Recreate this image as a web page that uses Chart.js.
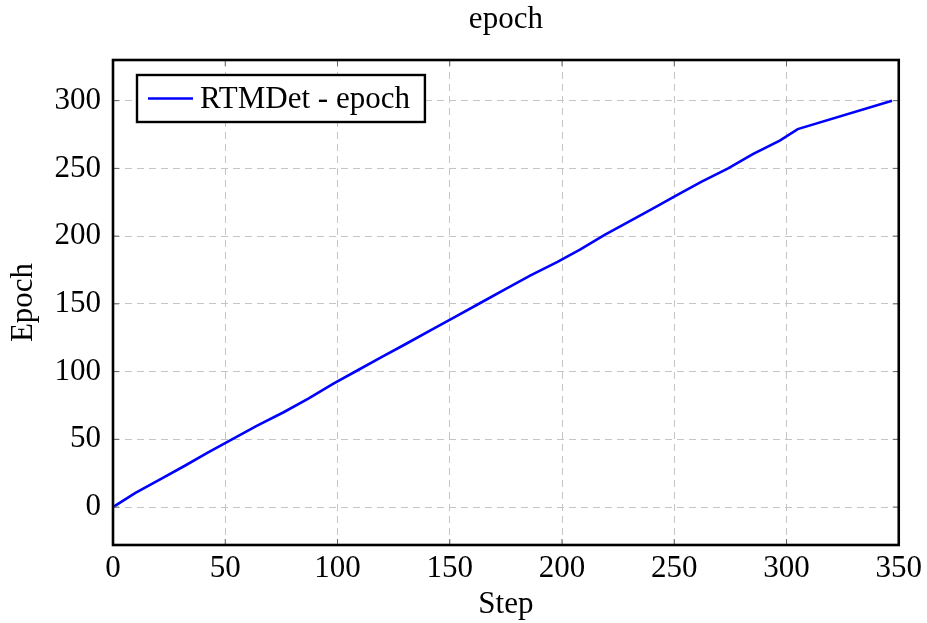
<!DOCTYPE html>
<html>
<head>
<meta charset="utf-8">
<script src="https://cdn.jsdelivr.net/npm/chart.js@4/dist/chart.umd.min.js"></script>
<style>
  html, body { margin: 0; padding: 0; background: #fff; }
  #wrap { width: 927px; height: 623px; }
</style>
</head>
<body>
<div id="wrap"><canvas id="c"></canvas></div>
<script>
// data
const steps = [0, 10, 21, 32, 42, 53, 64, 76, 87, 98, 109, 120, 130, 142, 153, 164, 175, 186, 198, 208, 219, 229, 240, 251, 262, 274, 285, 297, 305, 347];
const epochs = [0, 10.5, 20.5, 30.5, 40, 50, 60, 70, 80, 91, 101, 111, 120, 131, 141, 151, 161, 171, 181, 190, 201, 210, 220, 230, 240, 250, 260.5, 270.5, 279, 300];
const xTicks = [0, 50, 100, 150, 200, 250, 300, 350];
const yTicks = [0, 50, 100, 150, 200, 250, 300];

const FONT = "'Liberation Serif', 'DejaVu Serif', serif";
const FS = 31;

// title over the plot, frame, inner tick marks and boxed legend (pgfplots look)
const framePlugin = {
  id: "frame",
  afterDatasetsDraw(chart) {
    const ctx = chart.ctx;
    const a = chart.chartArea;
    const xs = chart.scales.x;
    const ys = chart.scales.y;
    ctx.save();

    ctx.fillStyle = "#000";
    ctx.font = FS + "px " + FONT;
    ctx.textAlign = "center";
    ctx.textBaseline = "middle";
    ctx.fillText(chart.options.plugins.title.text, (a.left + a.right) / 2, 20);
    ctx.textAlign = "left";

    ctx.strokeStyle = "#666";
    ctx.lineWidth = 1;
    xTicks.forEach((v) => {
      const px = xs.getPixelForValue(v);
      ctx.beginPath();
      ctx.moveTo(px, a.bottom); ctx.lineTo(px, a.bottom - 6);
      ctx.moveTo(px, a.top); ctx.lineTo(px, a.top + 6);
      ctx.stroke();
    });
    yTicks.forEach((v) => {
      const py = ys.getPixelForValue(v);
      ctx.beginPath();
      ctx.moveTo(a.left, py); ctx.lineTo(a.left + 6, py);
      ctx.moveTo(a.right, py); ctx.lineTo(a.right - 6, py);
      ctx.stroke();
    });
    ctx.strokeStyle = "#000";
    ctx.lineWidth = 2.6;
    ctx.strokeRect(a.left, a.top, a.right - a.left, a.bottom - a.top);

    // legend
    const ds = chart.data.datasets[0];
    const tw = ctx.measureText(ds.label).width;
    const bx = a.left + 24, by = a.top + 15;
    const bw = 63 + tw + 15, bh = 47;
    ctx.fillStyle = "#fff";
    ctx.fillRect(bx, by, bw, bh);
    ctx.strokeStyle = "#000";
    ctx.lineWidth = 2.4;
    ctx.strokeRect(bx, by, bw, bh);
    ctx.strokeStyle = ds.borderColor;
    ctx.lineWidth = 2.6;
    ctx.beginPath();
    ctx.moveTo(bx + 11, by + bh / 2);
    ctx.lineTo(bx + 56, by + bh / 2);
    ctx.stroke();
    ctx.fillStyle = "#000";
    ctx.fillText(ds.label, bx + 63, by + bh / 2 + 1);
    ctx.restore();
  }
};

new Chart(document.getElementById("c"), {
  type: "line",
  data: {
    labels: steps,
    datasets: [{
      label: "RTMDet - epoch",
      data: steps.map((s, i) => ({ x: s, y: epochs[i] })),
      borderColor: "#0000ff",
      borderWidth: 2.6,
      pointRadius: 0,
      tension: 0,
      fill: false
    }]
  },
  options: {
    responsive: true,
    maintainAspectRatio: false,
    animation: false,
    layout: { padding: { left: 0, right: 26, top: 60, bottom: 0 } },
    plugins: {
      legend: { display: false },
      tooltip: { enabled: false },
      title: { display: false, text: "epoch" }
    },
    scales: {
      x: {
        type: "linear",
        min: 0,
        max: 350,
        afterBuildTicks: (s) => { s.ticks = xTicks.map((v) => ({ value: v })); },
        afterFit: (s) => { s.height = 78; },
        grid: { color: "#c4c4c4", lineWidth: 1, drawTicks: false },
        border: { display: false, dash: [7, 5] },
        ticks: { color: "#000", font: { family: FONT, size: FS }, padding: 5, maxRotation: 0 },
        title: { display: true, text: "Step", color: "#000", font: { family: FONT, size: FS }, padding: { top: 0, bottom: 0 } }
      },
      y: {
        min: -28,
        max: 330,
        afterBuildTicks: (s) => { s.ticks = yTicks.map((v) => ({ value: v })); },
        afterFit: (s) => { s.width = 113; },
        grid: { color: "#c4c4c4", lineWidth: 1, drawTicks: false },
        border: { display: false, dash: [7, 5] },
        ticks: { color: "#000", font: { family: FONT, size: FS }, padding: 12 },
        title: { display: true, text: "Epoch", color: "#000", font: { family: FONT, size: FS }, padding: { top: 5, bottom: 0 } }
      }
    }
  },
  plugins: [framePlugin]
});
</script>
</body>
</html>
